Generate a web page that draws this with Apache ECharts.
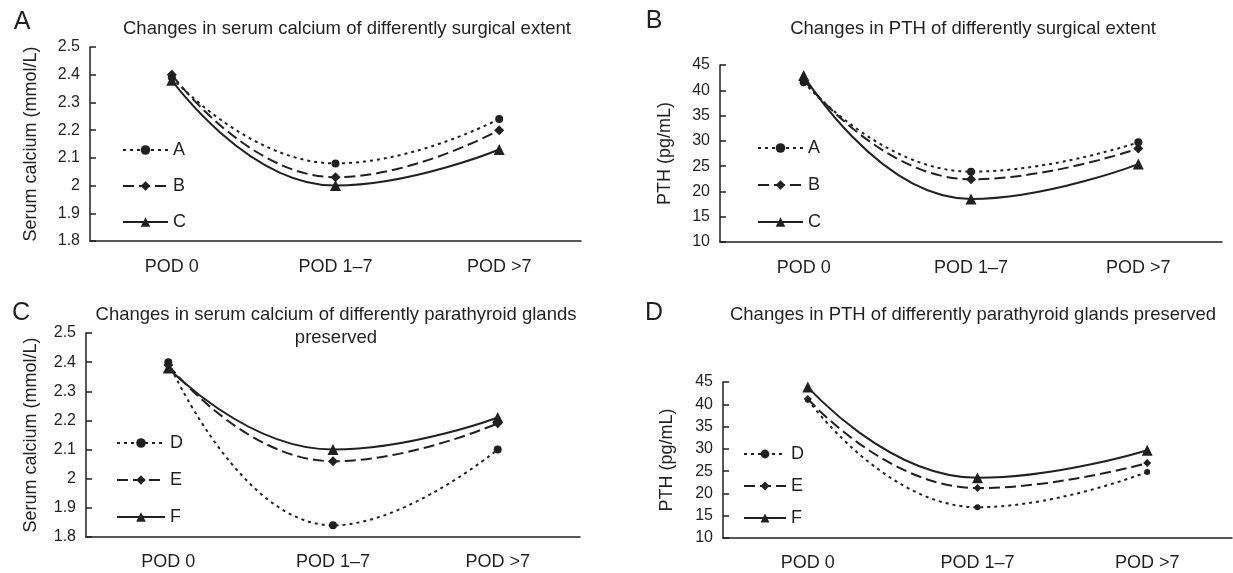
<!DOCTYPE html>
<html>
<head>
<meta charset="utf-8">
<script src="https://cdn.jsdelivr.net/npm/echarts@6/dist/echarts.min.js"></script>
<style>
  html, body { margin: 0; padding: 0; background: #fff; }
  #chart { width: 1233px; height: 573px; }
</style>
</head>
<body>
<div id="chart"></div>
<script>
// ===== Data =====
const categories = ['POD 0', 'POD 1\u20137', 'POD >7'];

// serum calcium (mmol/L), by surgical extent
const caExtentA = [2.39, 2.08, 2.24];
const caExtentB = [2.40, 2.03, 2.20];
const caExtentC = [2.38, 2.00, 2.13];

// PTH (pg/mL), by surgical extent
const pthExtentA = [41.6, 23.9, 29.7];
const pthExtentB = [42.1, 22.4, 28.5];
const pthExtentC = [42.9, 18.5, 25.4];

// serum calcium, by parathyroid glands preserved
const caGlandD = [2.40, 1.84, 2.10];
const caGlandE = [2.39, 2.06, 2.19];
const caGlandF = [2.38, 2.10, 2.21];

// PTH, by parathyroid glands preserved
const pthGlandD = [41.0, 16.9, 24.8];
const pthGlandE = [41.2, 21.2, 26.8];
const pthGlandF = [43.9, 23.5, 29.7];

// axis ranges
const caTicks = { min: 1.8, max: 2.5, step: 0.1 };
const pthTicks = { min: 10, max: 45, step: 5 };

const INK = '#231f20';
const FONT = '"Liberation Sans", Arial, sans-serif';

// ===== helpers =====
function xAx(grid, margin) {
  return {
    type: 'category', gridIndex: grid, data: categories, boundaryGap: true,
    axisLine: { lineStyle: { color: INK, width: 1.5 } },
    axisTick: { inside: true, length: 6, interval: 0, lineStyle: { color: INK, width: 1.5 } },
    axisLabel: { color: INK, fontSize: 18, fontFamily: FONT, margin: margin, interval: 0 },
    splitLine: { show: false }
  };
}

function yAx(grid, t, name, gap) {
  return {
    type: 'value', gridIndex: grid, min: t.min, max: t.max, interval: t.step,
    name: name, nameLocation: 'middle', nameGap: gap, nameRotate: 90,
    nameTextStyle: { color: INK, fontSize: 18, fontFamily: FONT },
    axisLine: { show: true, lineStyle: { color: INK, width: 1.5 } },
    axisTick: { show: true, inside: true, length: 6, lineStyle: { color: INK, width: 1.5 } },
    axisLabel: { color: INK, fontSize: 16, fontFamily: FONT, margin: 10 },
    splitLine: { show: false }
  };
}

const dotted = [3, 4];
const dashed = [11, 5];

function line(name, data, idx, dash, symbol, size) {
  return {
    name: name, type: 'line', data: data, xAxisIndex: idx, yAxisIndex: idx,
    smooth: 0.5, symbol: symbol, symbolSize: size, showSymbol: true,
    lineStyle: { color: INK, width: 2, type: dash },
    itemStyle: { color: INK },
    emphasis: { disabled: true },
    z: dash === 'solid' ? 3 : 2
  };
}

function legend(names, left, top, w, gap, h) {
  return {
    data: names, orient: 'vertical', left: left, top: top, padding: 0,
    itemWidth: w, itemHeight: h || 12, itemGap: gap, selectedMode: false,
    textStyle: { color: INK, fontSize: 18, fontFamily: FONT, lineHeight: 12, padding: [0, 0, 0, 0] }
  };
}

function txt(x, y, s, size) {
  return {
    type: 'text', x: x, y: y,
    style: { text: s, fill: INK, font: size + 'px ' + FONT, textAlign: 'center', textVerticalAlign: 'middle' }
  };
}

// ===== Chart =====
const chart = echarts.init(document.getElementById('chart'), null, { renderer: 'canvas' });

chart.setOption({
  animation: false,
  backgroundColor: '#fff',
  grid: [
    { left: 90, top: 47, width: 491, height: 194 },
    { left: 720, top: 65, width: 502, height: 177 },
    { left: 86, top: 333, width: 494, height: 204 },
    { left: 723, top: 382, width: 509, height: 156 }
  ],
  xAxis: [xAx(0, 17), xAx(1, 17), xAx(2, 16), xAx(3, 16)],
  yAxis: [
    yAx(0, caTicks, 'Serum calcium (mmol/L)', 50),
    yAx(1, pthTicks, 'PTH (pg/mL)', 46),
    yAx(2, caTicks, 'Serum calcium (mmol/L)', 46),
    yAx(3, pthTicks, 'PTH (pg/mL)', 47)
  ],
  legend: [
    legend(['A', 'B', 'C'], 122, 141, 45, 18),
    legend(['A', 'B', 'C'], 757, 139, 45, 19),
    legend(['D', 'E', 'F'], 116, 434, 48, 19),
    legend(['D', 'E', 'F'], 743, 445, 42, 14, 11)
  ],
  graphic: [
    txt(22, 22, 'A', 25),
    txt(654, 21, 'B', 25),
    txt(21, 313, 'C', 25),
    txt(654, 313, 'D', 25),
    txt(347, 29, 'Changes in serum calcium of differently surgical extent', 18.5),
    txt(973, 29, 'Changes in PTH of differently surgical extent', 18.5),
    txt(336, 315, 'Changes in serum calcium of differently parathyroid glands', 18.5),
    txt(336, 338, 'preserved', 18.5),
    txt(973, 315, 'Changes in PTH of differently parathyroid glands preserved', 18.5)
  ],
  series: [
    line('A', caExtentA, 0, dotted, 'circle', 8),
    line('B', caExtentB, 0, dashed, 'diamond', 10),
    line('C', caExtentC, 0, 'solid', 'triangle', 11),

    line('A', pthExtentA, 1, dotted, 'circle', 8),
    line('B', pthExtentB, 1, dashed, 'diamond', 10),
    line('C', pthExtentC, 1, 'solid', 'triangle', 11),

    line('D', caGlandD, 2, dotted, 'circle', 8),
    line('E', caGlandE, 2, dashed, 'diamond', 10),
    line('F', caGlandF, 2, 'solid', 'triangle', 11),

    line('D', pthGlandD, 3, dotted, 'circle', 6),
    line('E', pthGlandE, 3, dashed, 'diamond', 8),
    line('F', pthGlandF, 3, 'solid', 'triangle', 11)
  ]
});
</script>
</body>
</html>
